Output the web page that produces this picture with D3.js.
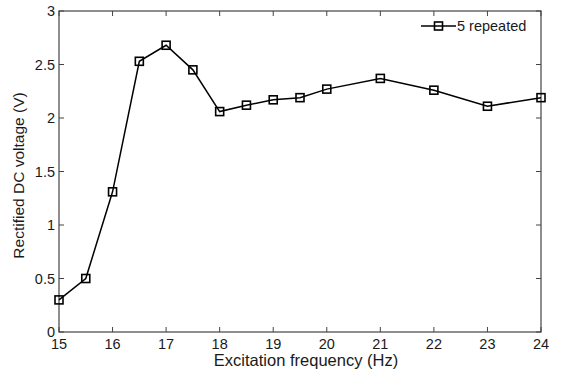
<!DOCTYPE html>
<html>
<head>
<meta charset="utf-8">
<script src="https://cdn.jsdelivr.net/npm/d3@7"></script>
<style>
  body { margin: 0; background: #fff; }
  text { font-family: "Liberation Sans", Arial, sans-serif; fill: #1a1a1a; }
</style>
</head>
<body>
<div id="chart"></div>
<script>
  // data
  var freq = [15, 15.5, 16, 16.5, 17, 17.5, 18, 18.5, 19, 19.5, 20, 21, 22, 23, 24];
  var volts = [0.30, 0.50, 1.31, 2.53, 2.68, 2.45, 2.06, 2.12, 2.17, 2.19, 2.27, 2.37, 2.26, 2.11, 2.19];
  var xTicks = [15, 16, 17, 18, 19, 20, 21, 22, 23, 24];
  var yTicks = [0, 0.5, 1, 1.5, 2, 2.5, 3];
  var seriesName = "5 repeated";

  var margin = {top: 11, right: 21, bottom: 42, left: 59},
      width = 562 - margin.left - margin.right,
      height = 374 - margin.top - margin.bottom;

  var svg = d3.select("#chart")
    .append("svg")
      .attr("width", 562)
      .attr("height", 374)
    .append("g")
      .attr("transform", "translate(" + margin.left + "," + margin.top + ")");

  var x = d3.scaleLinear().domain([15, 24]).range([0, width]);
  var y = d3.scaleLinear().domain([0, 3]).range([height, 0]);

  var axisColor = "#444";

  // box
  svg.append("rect")
    .attr("width", width)
    .attr("height", height)
    .attr("fill", "none")
    .attr("stroke", axisColor)
    .attr("stroke-width", 1.2);

  // inward ticks on all sides
  var tickLen = 5;
  var ticks = svg.append("g").attr("stroke", axisColor).attr("stroke-width", 1);
  xTicks.forEach(function (t) {
    ticks.append("line").attr("x1", x(t)).attr("x2", x(t)).attr("y1", height).attr("y2", height - tickLen);
    ticks.append("line").attr("x1", x(t)).attr("x2", x(t)).attr("y1", 0).attr("y2", tickLen);
  });
  yTicks.forEach(function (t) {
    ticks.append("line").attr("x1", 0).attr("x2", tickLen).attr("y1", y(t)).attr("y2", y(t));
    ticks.append("line").attr("x1", width).attr("x2", width - tickLen).attr("y1", y(t)).attr("y2", y(t));
  });

  // tick labels
  svg.append("g").selectAll("text")
    .data(xTicks)
    .enter().append("text")
      .attr("x", d => x(d))
      .attr("y", height + 16.5)
      .attr("text-anchor", "middle")
      .style("font-size", "14.5px")
      .text(d => d);

  svg.append("g").selectAll("text")
    .data(yTicks)
    .enter().append("text")
      .attr("x", -4)
      .attr("y", d => y(d))
      .attr("dy", "0.35em")
      .attr("text-anchor", "end")
      .style("font-size", "14.5px")
      .text(d => d);

  // axis titles
  svg.append("text")
    .attr("x", width / 2 + 6)
    .attr("y", height + 34)
    .attr("text-anchor", "middle")
    .style("font-size", "16.5px")
    .text("Excitation frequency (Hz)");

  svg.append("text")
    .attr("transform", "translate(-35," + (height / 2 + 4) + ") rotate(-90)")
    .attr("text-anchor", "middle")
    .style("font-size", "15.5px")
    .text("Rectified DC voltage (V)");

  // the series
  var pts = freq.map((f, i) => ({f: f, v: volts[i]}));
  var line = d3.line().x(d => x(d.f)).y(d => y(d.v));

  svg.append("path")
    .datum(pts)
    .attr("d", line)
    .attr("fill", "none")
    .attr("stroke", "#000")
    .attr("stroke-width", 1.5);

  var ms = 8;
  svg.append("g").selectAll("rect")
    .data(pts)
    .enter().append("rect")
      .attr("x", d => x(d.f) - ms / 2)
      .attr("y", d => y(d.v) - ms / 2)
      .attr("width", ms)
      .attr("height", ms)
      .attr("fill", "none")
      .attr("stroke", "#000")
      .attr("stroke-width", 1.6);

  // legend
  var lg = svg.append("g").attr("transform", "translate(" + (421 - margin.left) + "," + (26 - margin.top) + ")");
  lg.append("line").attr("x1", 0).attr("x2", 35).attr("y1", 0).attr("y2", 0)
    .attr("stroke", "#000").attr("stroke-width", 1.5);
  lg.append("rect").attr("x", 17.5 - ms / 2).attr("y", -ms / 2).attr("width", ms).attr("height", ms)
    .attr("fill", "none").attr("stroke", "#000").attr("stroke-width", 1.6);
  lg.append("text").attr("x", 36).attr("y", 0).attr("dy", "0.35em")
    .style("font-size", "14.5px")
    .text(seriesName);
</script>
</body>
</html>
